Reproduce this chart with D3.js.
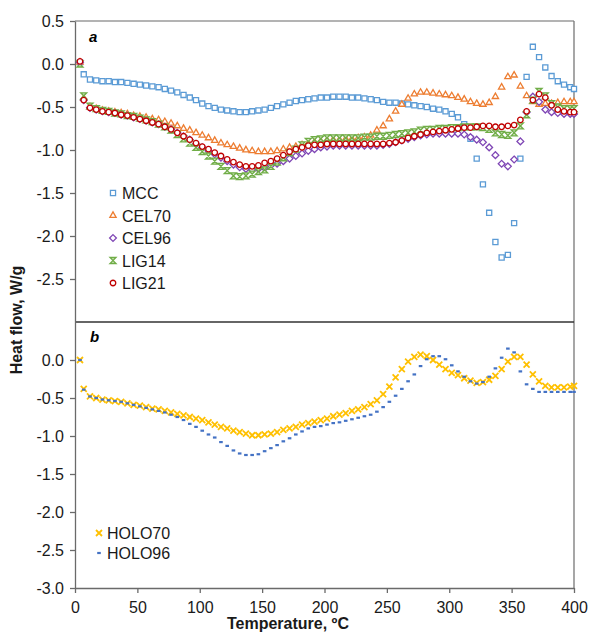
<!DOCTYPE html>
<html>
<head>
<meta charset="utf-8">
<script src="https://cdn.jsdelivr.net/npm/d3@7"></script>
<style>
body { margin: 0; background: #fff; }
text { font-family: "Liberation Sans", Arial, sans-serif; }
</style>
</head>
<body>
<div id="vis-container"></div>
<script>
// temperature of each sample, ºC
var temps = [4, 7, 12, 17, 22, 27, 32, 37, 42, 47,
    52, 57, 62, 67, 72, 77, 82, 87, 92, 97,
    102, 107, 112, 117, 122, 127, 132, 137, 142, 147,
    152, 157, 162, 167, 172, 177, 182, 187, 192, 197,
    202, 207, 212, 217, 222, 227, 232, 237, 242, 247,
    252, 257, 262, 267, 272, 277, 282, 287, 292, 297,
    302, 307, 312, 317, 322, 327, 332, 337, 342, 347,
    352, 357, 362, 367, 372, 377, 382, 387, 392, 397,
    400];

// panel a
var mcc = [0.02, -0.12, -0.18, -0.19, -0.20, -0.20, -0.21, -0.21, -0.22, -0.23,
    -0.24, -0.25, -0.26, -0.27, -0.29, -0.31, -0.33, -0.36, -0.39, -0.42,
    -0.46, -0.49, -0.51, -0.53, -0.54, -0.55, -0.56, -0.56, -0.55, -0.54,
    -0.53, -0.51, -0.49, -0.47, -0.45, -0.43, -0.42, -0.41, -0.40, -0.39,
    -0.39, -0.38, -0.38, -0.38, -0.39, -0.39, -0.40, -0.41, -0.42, -0.44,
    -0.45, -0.45, -0.46, -0.47, -0.48, -0.49, -0.50, -0.52, -0.53, -0.55,
    -0.58, -0.62, -0.70, -0.87, -1.10, -1.40, -1.73, -2.07, -2.25, -2.22,
    -1.85, -1.10, -0.15, 0.20, 0.08, -0.04, -0.14, -0.20, -0.24, -0.27,
    -0.29];
var cel70 = [0.02, -0.40, -0.50, -0.52, -0.54, -0.55, -0.56, -0.57, -0.58, -0.60,
    -0.61, -0.62, -0.64, -0.65, -0.67, -0.69, -0.72, -0.75, -0.77, -0.80,
    -0.83, -0.86, -0.89, -0.92, -0.94, -0.96, -0.98, -1.00, -1.01, -1.02,
    -1.02, -1.02, -1.01, -0.99, -0.97, -0.96, -0.94, -0.92, -0.91, -0.90,
    -0.89, -0.88, -0.88, -0.87, -0.87, -0.86, -0.85, -0.83, -0.77, -0.72,
    -0.64, -0.55, -0.47, -0.40, -0.35, -0.33, -0.33, -0.34, -0.35, -0.36,
    -0.37, -0.39, -0.41, -0.44, -0.46, -0.47, -0.45, -0.38, -0.27, -0.15,
    -0.13, -0.26, -0.37, -0.44, -0.47, -0.46, -0.46, -0.45, -0.44, -0.44,
    -0.44];
var cel96 = [0.02, -0.42, -0.51, -0.53, -0.55, -0.56, -0.57, -0.59, -0.60, -0.62,
    -0.64, -0.66, -0.68, -0.70, -0.73, -0.76, -0.80, -0.84, -0.88, -0.93,
    -0.97, -1.01, -1.05, -1.09, -1.13, -1.17, -1.20, -1.22, -1.23, -1.22,
    -1.21, -1.18, -1.16, -1.13, -1.10, -1.07, -1.04, -1.01, -0.99, -0.97,
    -0.96, -0.95, -0.95, -0.95, -0.95, -0.95, -0.95, -0.95, -0.95, -0.94,
    -0.93, -0.91, -0.89, -0.87, -0.85, -0.83, -0.82, -0.81, -0.81, -0.81,
    -0.81, -0.81, -0.82, -0.85, -0.88, -0.91, -0.97, -1.06, -1.16, -1.19,
    -1.11, -0.90, -0.56, -0.38, -0.44, -0.53, -0.56, -0.57, -0.58, -0.58,
    -0.58];
var lig14 = [0.00, -0.37, -0.49, -0.52, -0.54, -0.55, -0.57, -0.58, -0.60, -0.61,
    -0.63, -0.65, -0.67, -0.70, -0.73, -0.77, -0.82, -0.87, -0.92, -0.97,
    -1.02, -1.07, -1.13, -1.19, -1.24, -1.30, -1.31, -1.30, -1.28, -1.25,
    -1.23, -1.19, -1.14, -1.09, -1.03, -0.99, -0.94, -0.90, -0.88, -0.87,
    -0.86, -0.86, -0.86, -0.86, -0.86, -0.86, -0.85, -0.85, -0.84, -0.84,
    -0.83, -0.82, -0.81, -0.80, -0.79, -0.77, -0.76, -0.76, -0.75, -0.75,
    -0.74, -0.74, -0.73, -0.73, -0.73, -0.74, -0.76, -0.80, -0.82, -0.83,
    -0.80, -0.72, -0.59, -0.42, -0.32, -0.37, -0.46, -0.50, -0.52, -0.52,
    -0.52];
var lig21 = [0.03, -0.42, -0.51, -0.53, -0.55, -0.56, -0.57, -0.59, -0.60, -0.62,
    -0.64, -0.66, -0.68, -0.70, -0.73, -0.76, -0.80, -0.84, -0.88, -0.92,
    -0.96, -0.99, -1.03, -1.07, -1.11, -1.14, -1.17, -1.19, -1.19, -1.18,
    -1.15, -1.13, -1.10, -1.06, -1.02, -0.99, -0.97, -0.95, -0.94, -0.94,
    -0.93, -0.93, -0.93, -0.93, -0.93, -0.93, -0.93, -0.93, -0.93, -0.93,
    -0.92, -0.91, -0.89, -0.86, -0.84, -0.82, -0.80, -0.79, -0.78, -0.77,
    -0.76, -0.75, -0.74, -0.74, -0.73, -0.72, -0.72, -0.73, -0.73, -0.72,
    -0.71, -0.65, -0.55, -0.42, -0.35, -0.39, -0.48, -0.53, -0.55, -0.56,
    -0.56];

// panel b
var holo70 = [0.00, -0.38, -0.48, -0.50, -0.52, -0.53, -0.54, -0.55, -0.57, -0.59,
    -0.60, -0.62, -0.64, -0.65, -0.67, -0.69, -0.71, -0.73, -0.75, -0.77,
    -0.79, -0.82, -0.85, -0.88, -0.90, -0.93, -0.95, -0.97, -0.99, -0.99,
    -0.98, -0.97, -0.95, -0.92, -0.90, -0.88, -0.85, -0.83, -0.81, -0.79,
    -0.77, -0.74, -0.72, -0.70, -0.67, -0.65, -0.62, -0.58, -0.53, -0.45,
    -0.35, -0.23, -0.12, -0.02, 0.04, 0.07, 0.05, 0.00, -0.06, -0.12,
    -0.17, -0.20, -0.24, -0.27, -0.30, -0.29, -0.26, -0.21, -0.12, -0.02,
    0.04, 0.04, -0.06, -0.19, -0.28, -0.34, -0.36, -0.36, -0.36, -0.35,
    -0.34];
var holo96 = [0.00, -0.39, -0.48, -0.50, -0.52, -0.53, -0.54, -0.55, -0.57, -0.59,
    -0.61, -0.63, -0.65, -0.67, -0.69, -0.72, -0.75, -0.79, -0.84, -0.88,
    -0.93, -0.98, -1.02, -1.08, -1.13, -1.19, -1.23, -1.25, -1.25, -1.24,
    -1.20, -1.16, -1.12, -1.07, -1.03, -0.98, -0.94, -0.90, -0.88, -0.87,
    -0.85, -0.83, -0.82, -0.80, -0.78, -0.76, -0.74, -0.72, -0.68, -0.62,
    -0.55, -0.47, -0.38, -0.28, -0.19, -0.08, 0.01, 0.05, 0.05, 0.01,
    -0.07, -0.15, -0.22, -0.28, -0.31, -0.29, -0.22, -0.11, 0.03, 0.15,
    0.10, -0.15, -0.32, -0.38, -0.42, -0.42, -0.42, -0.42, -0.42, -0.42,
    -0.42];

var xTicks = [0, 50, 100, 150, 200, 250, 300, 350, 400];
var yTicksTop = [0.5, 0, -0.5, -1, -1.5, -2, -2.5];
var yTicksBottom = [0, -0.5, -1, -1.5, -2, -2.5, -3];

var seriesTop = [
    {name: "MCC", values: mcc, shape: "square", color: "#5B9BD5"},
    {name: "CEL70", values: cel70, shape: "triangle", color: "#ED7D31"},
    {name: "CEL96", values: cel96, shape: "diamond", color: "#7F46B5"},
    {name: "LIG14", values: lig14, shape: "hourglass", color: "#70AD47"},
    {name: "LIG21", values: lig21, shape: "circle", color: "#C00000"}
];
var seriesBottom = [
    {name: "HOLO70", values: holo70, shape: "cross", color: "#FFC000"},
    {name: "HOLO96", values: holo96, shape: "dash", color: "#4472C4"}
];

var W = 589, H = 632;
var margin = {top: 21, right: 15, bottom: 44, left: 75};
var plotRight = W - margin.right;
var split = 322;
var plotBottom = H - margin.bottom;

var x = d3.scaleLinear().domain([0, 400]).range([margin.left, plotRight]);
var yTop = d3.scaleLinear().domain([-3, 0.5]).range([split, margin.top]);
var yBot = d3.scaleLinear().domain([-3, 0.5]).range([plotBottom, split]);

var svg = d3.select("#vis-container").append("svg")
    .attr("width", W)
    .attr("height", H);

// marker shapes
function markerPath(shape) {
    if (shape == "square") return d3.symbol(d3.symbolSquare, 26)();
    if (shape == "triangle") return d3.symbol(d3.symbolTriangle, 17)();
    if (shape == "circle") return d3.symbol(d3.symbolCircle, 24)();
    if (shape == "diamond") return "M0,-3.4L3.4,0L0,3.4L-3.4,0Z";
    if (shape == "hourglass") return "M-3,-3L3,-3L-3,3L3,3Z";
    if (shape == "cross") return "M-3,-3L3,3M-3,3L3,-3";
    return "M-1.8,0L1.8,0";
}
function styleMarker(sel, s) {
    sel.attr("d", markerPath(s.shape))
        .attr("stroke", s.color);
    if (s.shape == "cross") {
        sel.attr("fill", "none").attr("stroke-width", 1.8);
    } else if (s.shape == "dash") {
        sel.attr("fill", "none").attr("stroke-width", 2.2);
    } else if (s.shape == "hourglass") {
        sel.attr("fill", "#d5e8c8").attr("stroke-width", 1.3);
    } else {
        sel.attr("fill", "#fff").attr("stroke-width", 1.3);
    }
}

function drawSeries(list, y) {
    list.forEach(function(s) {
        var pts = temps.map(function(t, i) { return {t: t, v: s.values[i]}; });
        svg.append("g").selectAll("path")
            .data(pts)
            .enter().append("path")
            .attr("transform", function(d) { return "translate(" + x(d.t) + "," + y(d.v) + ")"; })
            .call(styleMarker, s);
    });
}

// frame
svg.append("line")
    .attr("x1", margin.left).attr("x2", plotRight)
    .attr("y1", margin.top).attr("y2", margin.top)
    .attr("stroke", "#9a9a9a").attr("stroke-width", 1.3);
svg.append("line")
    .attr("x1", plotRight).attr("x2", plotRight)
    .attr("y1", margin.top).attr("y2", plotBottom)
    .attr("stroke", "#777").attr("stroke-width", 1.3);
svg.append("line")
    .attr("x1", margin.left).attr("x2", plotRight)
    .attr("y1", split).attr("y2", split)
    .attr("stroke", "#333").attr("stroke-width", 1.3);

var fmt = function(d) { return d.toFixed(1); };

var axTop = svg.append("g")
    .attr("transform", "translate(" + margin.left + ",0)")
    .call(d3.axisLeft(yTop).tickValues(yTicksTop).tickFormat(fmt).tickSize(5).tickSizeOuter(0).tickPadding(6));
var axBot = svg.append("g")
    .attr("transform", "translate(" + margin.left + ",0)")
    .call(d3.axisLeft(yBot).tickValues(yTicksBottom).tickFormat(fmt).tickSize(5).tickSizeOuter(0).tickPadding(6));
var axX = svg.append("g")
    .attr("transform", "translate(0," + plotBottom + ")")
    .call(d3.axisBottom(x).tickValues(xTicks).tickSize(5).tickSizeOuter(0).tickPadding(9));

[axTop, axBot, axX].forEach(function(g) {
    g.attr("font-size", 16).attr("font-family", "Liberation Sans, Arial, sans-serif");
    g.selectAll("path, line").attr("stroke", "#6a6a6a").attr("stroke-width", 1.3);
    g.selectAll("text").attr("fill", "#1a1a1a");
});

drawSeries(seriesTop, yTop);
drawSeries(seriesBottom, yBot);

// panel letters
svg.append("text").attr("x", 89).attr("y", 42)
    .attr("font-size", 15).attr("font-weight", "bold").attr("font-style", "italic")
    .text("a");
svg.append("text").attr("x", 90).attr("y", 342)
    .attr("font-size", 15).attr("font-weight", "bold").attr("font-style", "italic")
    .text("b");

// legends
function drawLegend(list, mx, tx, y0, step) {
    list.forEach(function(s, i) {
        var yy = y0 + i * step;
        svg.append("path")
            .attr("transform", "translate(" + mx + "," + yy + ")")
            .call(styleMarker, s);
        svg.append("text")
            .attr("x", tx).attr("y", yy + 6)
            .attr("font-size", 16).attr("fill", "#1a1a1a")
            .text(s.name);
    });
}
drawLegend(seriesTop, 113, 122, 193, 22.5);
drawLegend(seriesBottom, 99, 107, 533, 20);

// axis titles
svg.append("text")
    .attr("x", 288).attr("y", 629)
    .attr("text-anchor", "middle")
    .attr("font-size", 16).attr("font-weight", "bold").attr("fill", "#1a1a1a")
    .text("Temperature, ºC");
svg.append("text")
    .attr("transform", "translate(22,320) rotate(-90)")
    .attr("text-anchor", "middle")
    .attr("font-size", 16).attr("font-weight", "bold").attr("fill", "#1a1a1a")
    .text("Heat flow, W/g");
</script>
</body>
</html>
